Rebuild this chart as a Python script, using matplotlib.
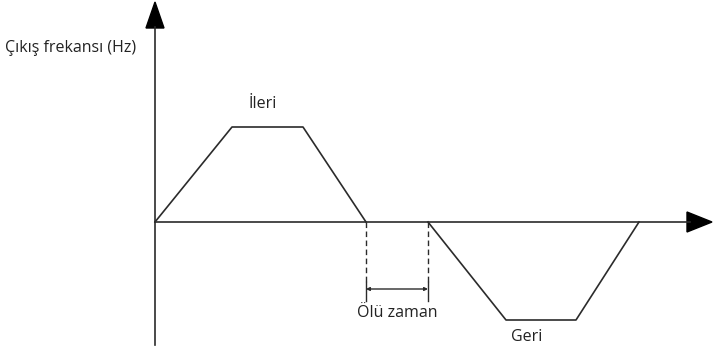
import matplotlib
matplotlib.use("Agg")
import matplotlib.pyplot as plt
from matplotlib.patches import Polygon

# Data (time and output frequency, arbitrary units)
t_forward = [0, 77, 148, 211]
f_forward = [0, 95, 95, 0]
t_reverse = [273, 351, 421, 484]
f_reverse = [0, -98, -98, 0]
dead_start, dead_end = 211, 273

ylabel_text = "Çıkış frekansı (Hz)"
forward_label = "İleri"
reverse_label = "Geri"
dead_label = "Ölü zaman"

plt.rcParams['font.family'] = ['Open Sans', 'DejaVu Sans']

fig = plt.figure(figsize=(7.13, 3.47), dpi=100)
ax = fig.add_axes([0, 0, 1, 1])
ax.set_xlim(-155, 558)
ax.set_ylim(-125, 222)
ax.axis('off')

lc = '#2b2b2b'
lw = 1.2
fs = 11.5
tc = '#222222'

# axes lines
ax.plot([0, 0], [-123, 195], color=lc, lw=lw)
ax.plot([0, 535], [0, 0], color=lc, lw=lw)
# arrowheads
ax.add_patch(Polygon([[-9, 194], [9, 194], [0, 220]], closed=True, color='black'))
ax.add_patch(Polygon([[532, 10], [532, -10], [557, 0]], closed=True, color='black'))

# curves
ax.plot(t_forward, f_forward, color=lc, lw=lw)
ax.plot(t_reverse, f_reverse, color=lc, lw=lw)

# dead time markers
for x in (dead_start, dead_end):
    ax.plot([x, x], [0, -60], color=lc, lw=1.0, ls=(0, (4, 2.5)))
    ax.plot([x, x], [-60, -79], color=lc, lw=1.0)
ax.annotate('', xy=(dead_start, -67), xytext=(dead_end, -67),
            arrowprops=dict(arrowstyle='<|-|>', color=lc, lw=1.0,
                            mutation_scale=5, shrinkA=0, shrinkB=0))

ax.text((dead_start + dead_end) / 2, -91, dead_label, ha='center', va='center',
        fontsize=fs, color=tc)
ax.text(108, 118, forward_label, ha='center', va='center', fontsize=fs, color=tc)
ax.text(372, -115, reverse_label, ha='center', va='center', fontsize=fs, color=tc)
ax.text(-150, 174, ylabel_text, ha='left', va='center', fontsize=fs, color=tc)

fig.savefig('out.png', dpi=100)
